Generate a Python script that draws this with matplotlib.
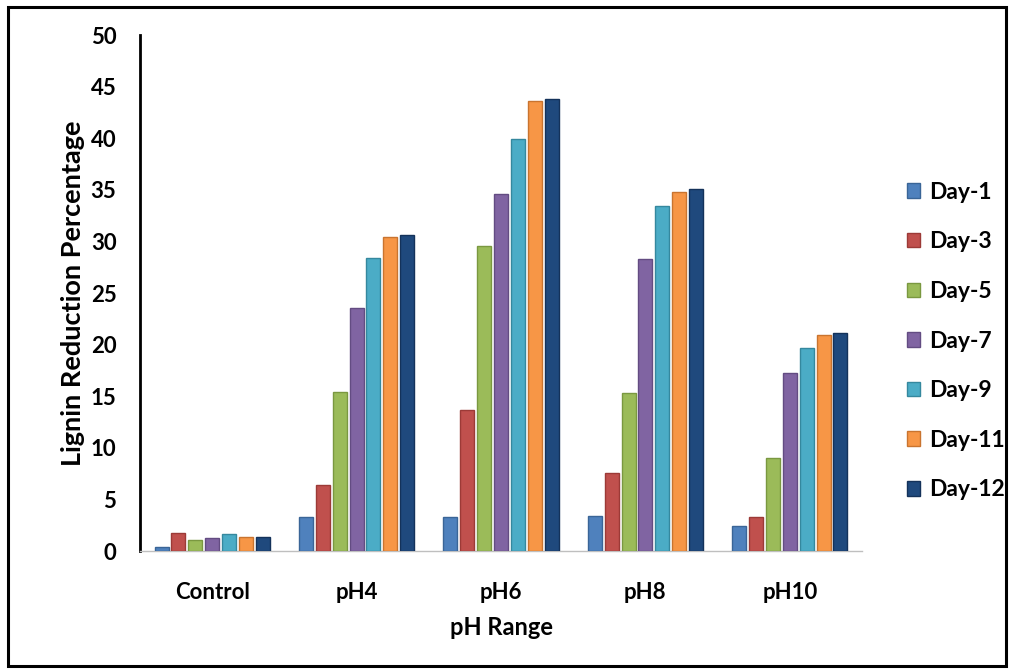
import numpy as np
import matplotlib
matplotlib.use("Agg")
import matplotlib.pyplot as plt
from matplotlib.patches import Rectangle

# Lignin reduction (%) by pH condition and incubation day
categories = ["Control", "pH4", "pH6", "pH8", "pH10"]
series_labels = ["Day-1", "Day-3", "Day-5", "Day-7", "Day-9", "Day-11", "Day-12"]
day1 = [0.4, 3.3, 3.3, 3.4, 2.4]
day3 = [1.7, 6.4, 13.7, 7.6, 3.3]
day5 = [1.1, 15.4, 29.6, 15.3, 9.0]
day7 = [1.3, 23.5, 34.6, 28.3, 17.2]
day9 = [1.6, 28.4, 39.9, 33.4, 19.7]
day11 = [1.4, 30.4, 43.6, 34.8, 20.9]
day12 = [1.4, 30.6, 43.8, 35.1, 21.1]
yticks = [0, 5, 10, 15, 20, 25, 30, 35, 40, 45, 50]

series = [day1, day3, day5, day7, day9, day11, day12]
colors = ["#4F81BD", "#C0504D", "#9BBB59", "#8064A2", "#4BACC6", "#F79646", "#1F497D"]
edges = ["#3A6597", "#9C3A37", "#7A9840", "#634C82", "#35889E", "#C9742F", "#14325A"]

plt.rcParams["font.family"] = ["Lato", "DejaVu Sans"]
plt.rcParams["font.weight"] = "bold"

fig = plt.figure(figsize=(10.18, 6.72), dpi=100)
ax = fig.add_axes([140 / 1018, 1 - 551 / 672, 722 / 1018, 516 / 672])

x = np.arange(len(categories))
step = 0.117
width = 0.097
for i, (vals, lab) in enumerate(zip(series, series_labels)):
    offs = (i - 3) * step
    ax.bar(x + offs, vals, width=width, color=colors[i], edgecolor=edges[i],
           linewidth=1.0, label=lab, zorder=3)

ax.set_xlim(-0.5, len(categories) - 0.5)
ax.set_ylim(0, 50)
ax.set_yticks(yticks)
ax.set_yticklabels([str(t) for t in yticks], fontsize=16, fontweight="bold")
ax.set_xticks(x)
ax.set_xticklabels(categories, fontsize=16, fontweight="bold")
ax.tick_params(axis="y", length=0, pad=17)
ax.tick_params(axis="x", length=0, pad=22)

for side in ["top", "right"]:
    ax.spines[side].set_visible(False)
ax.spines["left"].set_color("black")
ax.spines["left"].set_linewidth(2.0)
ax.spines["bottom"].set_color("#BFBFBF")
ax.spines["bottom"].set_linewidth(1.0)

ax.set_ylabel("Lignin Reduction Percentage", fontsize=19.5, fontweight="bold")
ax.yaxis.set_label_coords(-0.076, 0.5)
ax.set_xlabel("pH Range", fontsize=17, fontweight="bold", labelpad=10)

fig.legend(loc="center left", bbox_to_anchor=(886 / 1018, 1 - 341 / 672),
           frameon=False, prop={"weight": "bold", "size": 16.5},
           handlelength=0.6, handleheight=0.6, handletextpad=0.4,
           labelspacing=1.25)

# Outer frame around the whole figure
fig.patches.append(Rectangle((8 / 1018, 6 / 672), 998 / 1018, 659 / 672,
                             transform=fig.transFigure, fill=False,
                             edgecolor="black", linewidth=2.2))

fig.savefig("out.png", dpi=100)
